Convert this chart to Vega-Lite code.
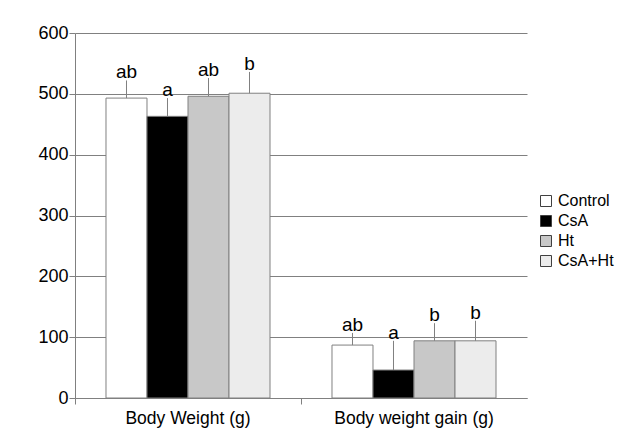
{
  "$schema": "https://vega.github.io/schema/vega-lite/v6.json",
  "width": 452,
  "height": 365,
  "padding": {"left": 37, "top": 24, "right": 5, "bottom": 5},
  "background": "white",
  "config": {
    "font": "Liberation Sans",
    "view": {"stroke": null}
  },
  "data": {
    "values": [
      {"measure": "Body Weight (g)", "group": "Control", "value": 493, "upper": 522, "label": "ab"},
      {"measure": "Body Weight (g)", "group": "CsA", "value": 463, "upper": 493, "label": "a"},
      {"measure": "Body Weight (g)", "group": "Ht", "value": 496, "upper": 526, "label": "ab"},
      {"measure": "Body Weight (g)", "group": "CsA+Ht", "value": 501, "upper": 536, "label": "b"},
      {"measure": "Body weight gain (g)", "group": "Control", "value": 87, "upper": 107, "label": "ab"},
      {"measure": "Body weight gain (g)", "group": "CsA", "value": 46, "upper": 94, "label": "a"},
      {"measure": "Body weight gain (g)", "group": "Ht", "value": 94, "upper": 123, "label": "b"},
      {"measure": "Body weight gain (g)", "group": "CsA+Ht", "value": 94, "upper": 127, "label": "b"}
    ]
  },
  "encoding": {
    "x": {
      "field": "measure", "type": "nominal", "title": null,
      "scale": {"paddingInner": 0, "paddingOuter": 0},
      "axis": {
        "labelAngle": 0, "labelFontSize": 17.5, "labelColor": "black", "labelPadding": 5,
        "bandPosition": 0, "tickSize": 6, "tickColor": "#808080", "domainColor": "#808080"
      }
    },
    "xOffset": {
      "field": "group", "type": "nominal",
      "sort": ["Control", "CsA", "Ht", "CsA+Ht"],
      "scale": {"paddingInner": 0, "paddingOuter": 0.756}
    }
  },
  "layer": [
    {
      "mark": {"type": "bar", "stroke": "#808080", "strokeWidth": 1},
      "encoding": {
        "y": {
          "field": "value", "type": "quantitative", "title": null,
          "scale": {"domain": [0, 600], "nice": false},
          "axis": {
            "values": [0, 100, 200, 300, 400, 500, 600],
            "labelFontSize": 18, "labelColor": "black", "labelPadding": 1,
            "tickSize": 6, "tickColor": "#808080", "domainColor": "#808080",
            "grid": true, "gridColor": "#808080", "gridOpacity": 1
          }
        },
        "fill": {
          "field": "group", "type": "nominal",
          "sort": ["Control", "CsA", "Ht", "CsA+Ht"],
          "scale": {
            "domain": ["Control", "CsA", "Ht", "CsA+Ht"],
            "range": ["#ffffff", "#000000", "#c8c8c8", "#ececec"]
          },
          "legend": {
            "title": null, "orient": "none", "legendX": 463, "legendY": 160,
            "symbolType": "square", "symbolSize": 121, "symbolStrokeColor": "#404040",
            "symbolStrokeWidth": 1, "labelFontSize": 16, "labelColor": "black",
            "rowPadding": 4, "labelOffset": 4
          }
        }
      }
    },
    {
      "mark": {"type": "rule", "color": "#808080", "strokeWidth": 1},
      "encoding": {
        "y": {"field": "value", "type": "quantitative"},
        "y2": {"field": "upper"}
      }
    },
    {
      "mark": {"type": "text", "fontSize": 19, "baseline": "bottom", "dy": 2, "color": "black"},
      "encoding": {
        "y": {"field": "upper", "type": "quantitative"},
        "text": {"field": "label"}
      }
    }
  ]
}
